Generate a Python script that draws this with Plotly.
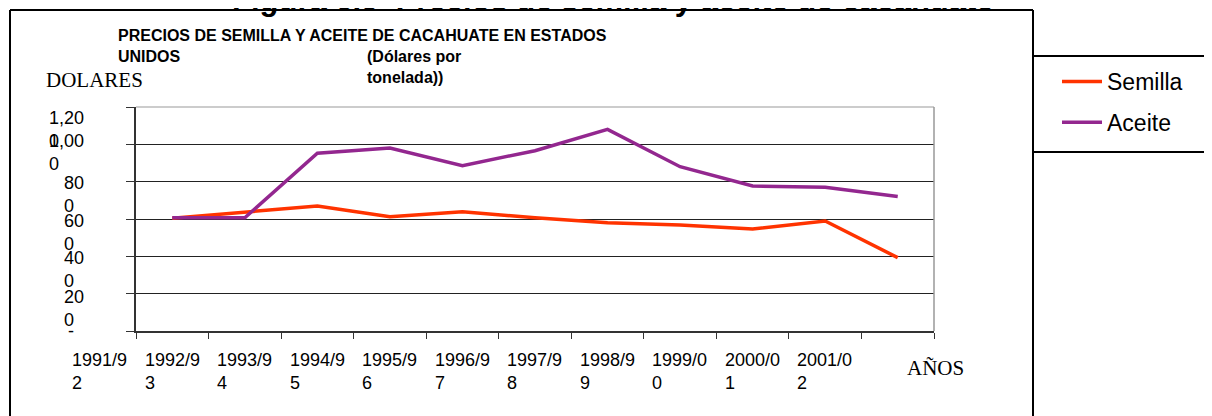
import plotly.graph_objects as go

# ---- data ----
years = ["1991/92", "1992/93", "1993/94", "1994/95", "1995/96", "1996/97",
         "1997/98", "1998/99", "1999/00", "2000/01", "2001/02"]
semilla = [604, 639, 670, 612, 639, 607, 580, 568, 546, 589, 393]
aceite = [607, 607, 952, 980, 886, 966, 1080, 880, 777, 770, 720]
y_ticks = [0, 200, 400, 600, 800, 1000, 1200]
y_tick_labels = ["-", "200", "400", "600", "800", "1,000", "1,200"]

OFF = 8  # page body margin
W_FIG, H_FIG = 1212 - OFF, 416 - OFF
# plot area in screen pixels: x 136..934, y 107..331
L = 136 - OFF
T = 107 - OFF
R = W_FIG - (934 - OFF)
B = H_FIG - (331 - OFF)
PW, PH = W_FIG - L - R, H_FIG - T - B


def px(x):
    return (x - OFF - L) / PW


def py(y):
    return (H_FIG - B - (y - OFF)) / PH


xpos = [i + 0.5 for i in range(len(years))]

fig = go.Figure()
fig.add_trace(go.Scatter(x=xpos, y=semilla, mode="lines", name="Semilla",
                         line=dict(color="#FF3300", width=3.5), legendgroup="a"))
fig.add_trace(go.Scatter(x=xpos, y=aceite, mode="lines", name="Aceite",
                         line=dict(color="#93278F", width=3.5), legendgroup="b"))

SANS = "Liberation Sans, Arial"
SERIF = "Liberation Serif, Times New Roman"

ann = []
# x tick labels (two lines, shifted one category left like the original)
for i, lab in enumerate(years):
    ann.append(dict(x=i, xref="x", y=py(348), yref="paper", xanchor="left", yanchor="top",
                    xshift=-66, align="left", showarrow=False,
                    text=lab[:6] + "<br>" + lab[6:],
                    font=dict(family=SANS, size=18, color="black")))
# y tick labels
yshifts = {0: 0, 200: 10, 400: 11, 600: 11, 800: 12, 1000: 16, 1200: 2}
for v, lab in zip(y_ticks, y_tick_labels):
    if lab == "-":
        ann.append(dict(x=0, xref="paper", y=v, yref="y", xanchor="right", yanchor="middle",
                        xshift=-60, showarrow=False, text=lab,
                        font=dict(family=SANS, size=18, color="black")))
    else:
        ann.append(dict(x=0, xref="paper", y=v, yref="y", xanchor="right", yanchor="top",
                        xshift=-50, yshift=yshifts[v] - 1, align="left", showarrow=False,
                        text=lab[:-1] + "<br>" + lab[-1:],
                        font=dict(family=SANS, size=18, color="black")))

# titles
ann.append(dict(x=px(230), y=py(19), xref="paper", yref="paper", xanchor="left", yanchor="bottom",
                showarrow=False, text="<b>Figura 6.9  Precios de semilla y aceite de cacahuate</b>",
                font=dict(family=SANS, size=31, color="black")))
ann.append(dict(x=px(116), y=py(36), xref="paper", yref="paper", xanchor="left", yanchor="middle",
                showarrow=False, text="<b>PRECIOS DE SEMILLA Y ACEITE DE CACAHUATE EN ESTADOS</b>",
                font=dict(family=SANS, size=16, color="black")))
ann.append(dict(x=px(116), y=py(57), xref="paper", yref="paper", xanchor="left", yanchor="middle",
                showarrow=False, text="<b>UNIDOS</b>",
                font=dict(family=SANS, size=16, color="black")))
ann.append(dict(x=px(365), y=py(67), xref="paper", yref="paper", xanchor="left", yanchor="middle",
                showarrow=False, text="<b>(Dólares por<br>tonelada))</b>", align="left",
                font=dict(family=SANS, size=16, color="black")))
ann.append(dict(x=px(44), y=py(80), xref="paper", yref="paper", xanchor="left", yanchor="middle",
                showarrow=False, text="DOLARES",
                font=dict(family=SERIF, size=21, color="black")))
ann.append(dict(x=px(905), y=py(368), xref="paper", yref="paper", xanchor="left", yanchor="middle",
                showarrow=False, text="AÑOS",
                font=dict(family=SERIF, size=21, color="black")))

shapes = []
frame = dict(color="black", width=2)
shapes.append(dict(type="line", xref="paper", yref="paper", x0=px(10), x1=px(10), y0=py(10), y1=py(420), line=frame))
shapes.append(dict(type="line", xref="paper", yref="paper", x0=px(10), x1=px(1033), y0=py(10), y1=py(10), line=frame))
shapes.append(dict(type="line", xref="paper", yref="paper", x0=px(1033), x1=px(1033), y0=py(10), y1=py(420), line=frame))
shapes.append(dict(type="line", xref="paper", yref="paper", x0=px(1033), x1=px(1215), y0=py(56), y1=py(56), line=frame))
shapes.append(dict(type="line", xref="paper", yref="paper", x0=px(1033), x1=px(1215), y0=py(152), y1=py(152), line=frame))
# plot area border top / right (gray)
shapes.append(dict(type="line", xref="paper", yref="paper", x0=0, x1=1, y0=1, y1=1, line=dict(color="#999999", width=1)))
shapes.append(dict(type="line", xref="paper", yref="paper", x0=1, x1=1, y0=0, y1=1, line=dict(color="#999999", width=1.5)))

fig.update_layout(
    width=W_FIG, height=H_FIG,
    margin=dict(l=L, r=R, t=T, b=B),
    paper_bgcolor="white", plot_bgcolor="white",
    annotations=ann, shapes=shapes,
    legend=dict(x=px(1057), y=py(60), xanchor="left", yanchor="top",
                font=dict(family=SANS, size=23, color="black"),
                bgcolor="rgba(0,0,0,0)", tracegroupgap=8, itemwidth=40),
    showlegend=True,
)
fig.update_xaxes(range=[0, len(years)], tickvals=list(range(len(years) + 1)), showticklabels=False,
                 ticks="outside", ticklen=6, tickcolor="#333333", showline=True, linecolor="#333333",
                 linewidth=1.5, showgrid=False, zeroline=False, fixedrange=True)
fig.update_yaxes(range=[0, 1200], tickvals=y_ticks, showticklabels=False, ticks="outside", ticklen=8,
                 tickcolor="#333333", showline=True, linecolor="#333333", linewidth=1.5,
                 showgrid=True, gridcolor="#222222", gridwidth=1, zeroline=False, fixedrange=True)

fig.write_html("out.html")
